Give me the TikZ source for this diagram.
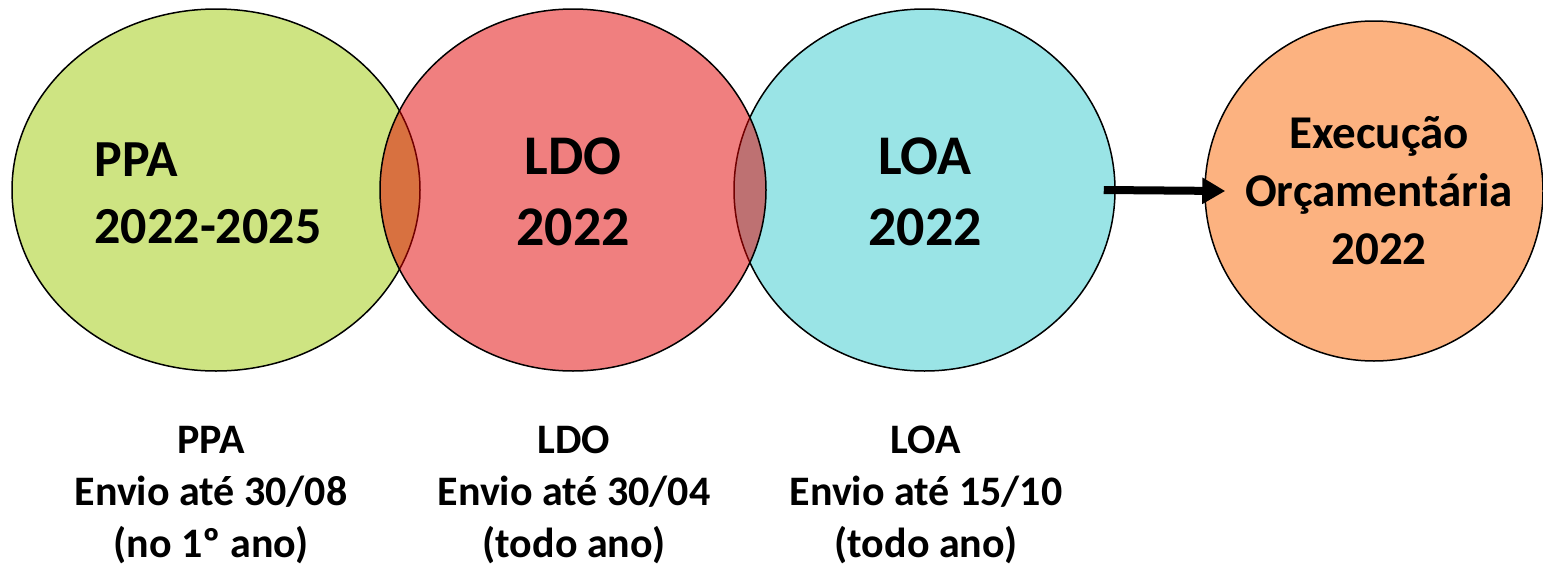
\documentclass[tikz,border=0pt]{standalone}
\usepackage{fontspec}
\setmainfont{Carlito}
\usetikzlibrary{shapes.geometric,arrows.meta}
\definecolor{ppagreen}{RGB}{206,228,130}
\definecolor{ldored}{RGB}{226,0,0}
\definecolor{loacyan}{RGB}{154,228,230}
\definecolor{exeorange}{RGB}{252,178,128}
\begin{document}
\begin{tikzpicture}[line join=round, x=1pt, y=-1pt, font=\bfseries,
    bubble/.style={ellipse, draw=black, line width=1.5pt, inner sep=0pt},
    big/.style 2 args={inner sep=0pt, font=\bfseries\fontsize{#1}{#2}\selectfont},
    note/.style={inner sep=0pt, align=center, font=\bfseries\fontsize{42}{52}\selectfont}]
    \useasboundingbox (0,0) rectangle (1543,568);
    % the four sets
    \node[bubble, fill=ppagreen, minimum width=408pt, minimum height=362pt] (ppa) at (216,190) {};
    \node[bubble, fill=loacyan, minimum width=381pt, minimum height=362pt] (loa) at (924.5,190) {};
    \node[bubble, fill=ldored, fill opacity=0.5, minimum width=386pt, minimum height=362pt] (ldo) at (573,190) {};
    \node[bubble, fill=exeorange, minimum width=338pt, minimum height=340pt] (exe) at (1374,191) {};
    \draw[line width=8pt, -{Triangle[length=23pt,width=25pt]}] ([xshift=-12pt]loa.east) -- ([xshift=21pt]exe.west);
    % texts inside
    \node[big={52}{67}, align=left] (ppatxt) at (208,193) {PPA\\2022-2025};
    \node[big={56}{71}, align=center] (ldotxt) at (573,192) {LDO\\2022};
    \node[big={56}{71}, align=center] (loatxt) at (925,192) {LOA\\2022};
    \node[big={47}{58}, align=center] (exetxt) at (1379,191) {Execução\\Orçamentária\\2022};
    % deadlines
    \node[note] (ppanote) at (211,495) {PPA\\Envio até 30/08\\(no 1º ano)};
    \node[note] (ldonote) at (574,495) {LDO\\Envio até 30/04\\(todo ano)};
    \node[note] (loanote) at (926,495) {LOA\\Envio até 15/10\\(todo ano)};
\end{tikzpicture}
\end{document}
